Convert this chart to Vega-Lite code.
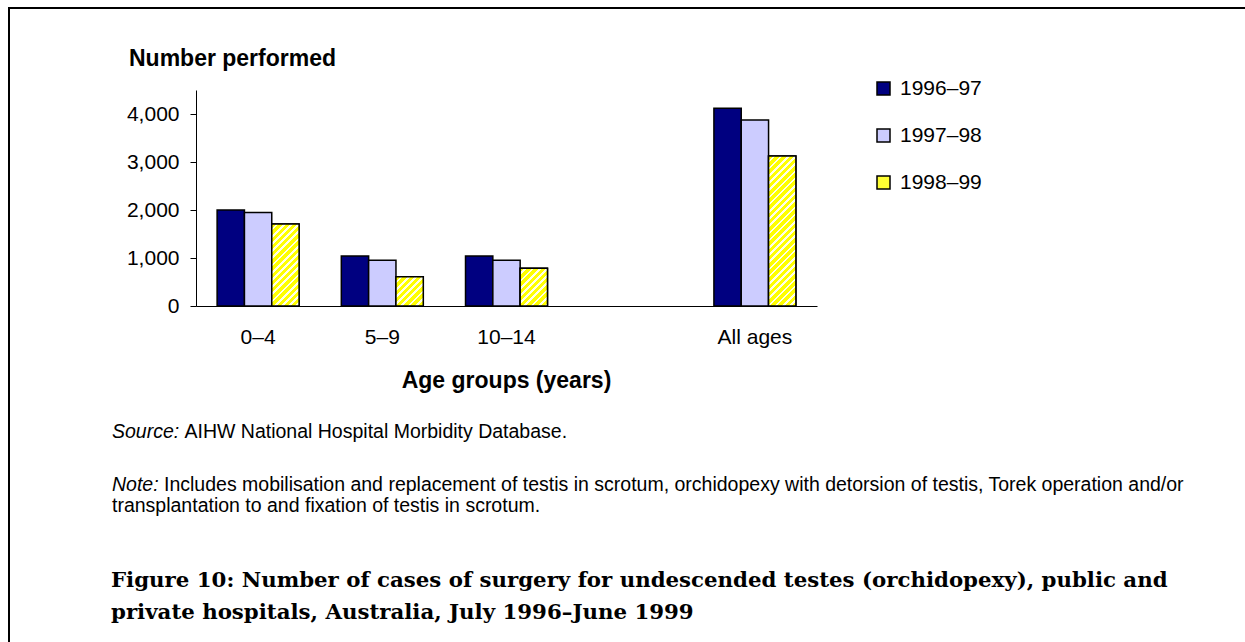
{
  "$schema": "https://vega.github.io/schema/vega-lite/v6.json",
  "width": 1240,
  "height": 638,
  "autosize": "none",
  "padding": {"left": 9, "top": 8, "right": -4, "bottom": -4},
  "background": "white",
  "config": {
    "view": {"stroke": "black", "strokeWidth": 2, "fill": "white"},
    "font": "Liberation Sans",
    "axis": {"grid": false, "domainColor": "black", "domainWidth": 1, "tickColor": "black", "labelColor": "black", "titleColor": "black", "labelFont": "Liberation Sans", "titleFont": "Liberation Sans", "labelFontSize": 21, "titleFontSize": 23, "labelFontWeight": "normal", "titleFontWeight": "bold"}
  },
  "params": [
    {"name": "stripes", "value": [
      {"offset": 0, "color": "#ffff00"}, {"offset": 0.025, "color": "#ffff00"}, {"offset": 0.025, "color": "#ffffe6"}, {"offset": 0.04, "color": "#ffffe6"},
      {"offset": 0.04, "color": "#ffff00"}, {"offset": 0.065, "color": "#ffff00"}, {"offset": 0.065, "color": "#ffffe6"}, {"offset": 0.08, "color": "#ffffe6"},
      {"offset": 0.08, "color": "#ffff00"}, {"offset": 0.105, "color": "#ffff00"}, {"offset": 0.105, "color": "#ffffe6"}, {"offset": 0.12, "color": "#ffffe6"},
      {"offset": 0.12, "color": "#ffff00"}, {"offset": 0.145, "color": "#ffff00"}, {"offset": 0.145, "color": "#ffffe6"}, {"offset": 0.16, "color": "#ffffe6"},
      {"offset": 0.16, "color": "#ffff00"}, {"offset": 0.185, "color": "#ffff00"}, {"offset": 0.185, "color": "#ffffe6"}, {"offset": 0.2, "color": "#ffffe6"},
      {"offset": 0.2, "color": "#ffff00"}, {"offset": 0.225, "color": "#ffff00"}, {"offset": 0.225, "color": "#ffffe6"}, {"offset": 0.24, "color": "#ffffe6"},
      {"offset": 0.24, "color": "#ffff00"}, {"offset": 0.265, "color": "#ffff00"}, {"offset": 0.265, "color": "#ffffe6"}, {"offset": 0.28, "color": "#ffffe6"},
      {"offset": 0.28, "color": "#ffff00"}, {"offset": 0.305, "color": "#ffff00"}, {"offset": 0.305, "color": "#ffffe6"}, {"offset": 0.32, "color": "#ffffe6"},
      {"offset": 0.32, "color": "#ffff00"}, {"offset": 0.345, "color": "#ffff00"}, {"offset": 0.345, "color": "#ffffe6"}, {"offset": 0.36, "color": "#ffffe6"},
      {"offset": 0.36, "color": "#ffff00"}, {"offset": 0.385, "color": "#ffff00"}, {"offset": 0.385, "color": "#ffffe6"}, {"offset": 0.4, "color": "#ffffe6"},
      {"offset": 0.4, "color": "#ffff00"}, {"offset": 0.425, "color": "#ffff00"}, {"offset": 0.425, "color": "#ffffe6"}, {"offset": 0.44, "color": "#ffffe6"},
      {"offset": 0.44, "color": "#ffff00"}, {"offset": 0.465, "color": "#ffff00"}, {"offset": 0.465, "color": "#ffffe6"}, {"offset": 0.48, "color": "#ffffe6"},
      {"offset": 0.48, "color": "#ffff00"}, {"offset": 0.505, "color": "#ffff00"}, {"offset": 0.505, "color": "#ffffe6"}, {"offset": 0.52, "color": "#ffffe6"},
      {"offset": 0.52, "color": "#ffff00"}, {"offset": 0.545, "color": "#ffff00"}, {"offset": 0.545, "color": "#ffffe6"}, {"offset": 0.56, "color": "#ffffe6"},
      {"offset": 0.56, "color": "#ffff00"}, {"offset": 0.585, "color": "#ffff00"}, {"offset": 0.585, "color": "#ffffe6"}, {"offset": 0.6, "color": "#ffffe6"},
      {"offset": 0.6, "color": "#ffff00"}, {"offset": 0.625, "color": "#ffff00"}, {"offset": 0.625, "color": "#ffffe6"}, {"offset": 0.64, "color": "#ffffe6"},
      {"offset": 0.64, "color": "#ffff00"}, {"offset": 0.665, "color": "#ffff00"}, {"offset": 0.665, "color": "#ffffe6"}, {"offset": 0.68, "color": "#ffffe6"},
      {"offset": 0.68, "color": "#ffff00"}, {"offset": 0.705, "color": "#ffff00"}, {"offset": 0.705, "color": "#ffffe6"}, {"offset": 0.72, "color": "#ffffe6"},
      {"offset": 0.72, "color": "#ffff00"}, {"offset": 0.745, "color": "#ffff00"}, {"offset": 0.745, "color": "#ffffe6"}, {"offset": 0.76, "color": "#ffffe6"},
      {"offset": 0.76, "color": "#ffff00"}, {"offset": 0.785, "color": "#ffff00"}, {"offset": 0.785, "color": "#ffffe6"}, {"offset": 0.8, "color": "#ffffe6"},
      {"offset": 0.8, "color": "#ffff00"}, {"offset": 0.825, "color": "#ffff00"}, {"offset": 0.825, "color": "#ffffe6"}, {"offset": 0.84, "color": "#ffffe6"},
      {"offset": 0.84, "color": "#ffff00"}, {"offset": 0.865, "color": "#ffff00"}, {"offset": 0.865, "color": "#ffffe6"}, {"offset": 0.88, "color": "#ffffe6"},
      {"offset": 0.88, "color": "#ffff00"}, {"offset": 0.905, "color": "#ffff00"}, {"offset": 0.905, "color": "#ffffe6"}, {"offset": 0.92, "color": "#ffffe6"},
      {"offset": 0.92, "color": "#ffff00"}, {"offset": 0.945, "color": "#ffff00"}, {"offset": 0.945, "color": "#ffffe6"}, {"offset": 0.96, "color": "#ffffe6"},
      {"offset": 0.96, "color": "#ffff00"}, {"offset": 0.985, "color": "#ffff00"}, {"offset": 0.985, "color": "#ffffe6"}, {"offset": 1, "color": "#ffffe6"}
    ]}
  ],
  "layer": [
    {
      "data": {"values": [
        {"age": "0–4", "year": "1996–97", "n": 2000},
        {"age": "0–4", "year": "1997–98", "n": 1950},
        {"age": "0–4", "year": "1998–99", "n": 1710},
        {"age": "5–9", "year": "1996–97", "n": 1040},
        {"age": "5–9", "year": "1997–98", "n": 955},
        {"age": "5–9", "year": "1998–99", "n": 610},
        {"age": "10–14", "year": "1996–97", "n": 1040},
        {"age": "10–14", "year": "1997–98", "n": 955},
        {"age": "10–14", "year": "1998–99", "n": 785},
        {"age": "All ages", "year": "1996–97", "n": 4120},
        {"age": "All ages", "year": "1997–98", "n": 3875},
        {"age": "All ages", "year": "1998–99", "n": 3125}
      ]},
      "encoding": {
        "x": {
          "field": "age", "type": "nominal",
          "scale": {"domain": ["0–4", "5–9", "10–14", "gap", "All ages"], "range": [187, 808], "paddingInner": 0.34, "paddingOuter": 0.17},
          "axis": {"title": "Age groups (years)", "labelAngle": 0, "ticks": false, "tickSize": 0, "labelPadding": 20, "offset": -340, "labelExpr": "datum.value == 'gap' ? '' : datum.value", "titleX": 497, "titleY": 74, "titleBaseline": "middle", "titleAnchor": null, "titleAlign": "center"}
        },
        "xOffset": {"field": "year", "type": "nominal", "scale": {"domain": ["1996–97", "1997–98", "1998–99"], "paddingInner": 0, "paddingOuter": 0}},
        "y": {
          "field": "n", "type": "quantitative",
          "scale": {"domain": [0, 4500], "range": [298, 82], "nice": false, "zero": true},
          "axis": {"title": "Number performed", "values": [0, 1000, 2000, 3000, 4000], "format": ",.0f", "tickSize": 6, "labelPadding": 11, "offset": -187, "titleAngle": 0, "titleX": 36, "titleY": 50, "titleAlign": "center", "titleBaseline": "middle", "titleAnchor": null}
        }
      },
      "layer": [
        {
          "mark": {"type": "bar", "stroke": "black", "strokeWidth": 1.5},
          "encoding": {
            "color": {
              "field": "year", "type": "nominal",
              "scale": {"domain": ["1996–97", "1997–98", "1998–99"], "range": ["#000080", "#ccccff", "#ffff33"]},
              "legend": {"title": null, "orient": "none", "legendX": 864, "legendY": 70, "direction": "vertical", "symbolType": "square", "symbolSize": 169, "symbolStrokeColor": "black", "symbolStrokeWidth": 1.5, "labelFontSize": 21, "labelFont": "Liberation Sans", "labelColor": "black", "labelOffset": 6, "rowPadding": 25}
            }
          }
        },
        {
          "transform": [{"filter": "datum.year == '1998–99'"}],
          "mark": {
            "type": "bar", "stroke": "black", "strokeWidth": 1.5,
            "fill": {"expr": "{gradient: 'linear', x1: 0, y1: 0, x2: 180 * bandwidth('xOffset') / (pow(bandwidth('xOffset'), 2) + pow(scale('y', 0) - scale('y', datum.n), 2)), y2: 180 * (scale('y', 0) - scale('y', datum.n)) / (pow(bandwidth('xOffset'), 2) + pow(scale('y', 0) - scale('y', datum.n), 2)), stops: stripes}"}
          }
        }
      ]
    },
    {
      "data": {"values": [{}]},
      "mark": {"type": "text", "text": "Source:", "x": 103, "y": 424, "align": "left", "baseline": "middle", "font": "Liberation Sans", "fontSize": 19.5, "fontStyle": "italic", "color": "black"},
      "encoding": {}
    },
    {
      "data": {"values": [{}]},
      "mark": {"type": "text", "text": "AIHW National Hospital Morbidity Database.", "x": 175.5, "y": 424, "align": "left", "baseline": "middle", "font": "Liberation Sans", "fontSize": 19.5, "color": "black"},
      "encoding": {}
    },
    {
      "data": {"values": [{}]},
      "mark": {"type": "text", "text": "Note:", "x": 103, "y": 477, "align": "left", "baseline": "middle", "font": "Liberation Sans", "fontSize": 19.5, "fontStyle": "italic", "color": "black"},
      "encoding": {}
    },
    {
      "data": {"values": [{}]},
      "mark": {"type": "text", "text": "Includes mobilisation and replacement of testis in scrotum, orchidopexy with detorsion of testis, Torek operation and/or", "x": 155, "y": 477, "align": "left", "baseline": "middle", "font": "Liberation Sans", "fontSize": 19.5, "color": "black"},
      "encoding": {}
    },
    {
      "data": {"values": [{}]},
      "mark": {"type": "text", "text": "transplantation to and fixation of testis in scrotum.", "x": 103, "y": 498, "align": "left", "baseline": "middle", "font": "Liberation Sans", "fontSize": 19.5, "color": "black"},
      "encoding": {}
    },
    {
      "data": {"values": [{}]},
      "mark": {"type": "text", "text": ["Figure 10: Number of cases of surgery for undescended testes (orchidopexy), public and", "private hospitals, Australia, July 1996–June 1999"], "x": 102, "y": 579, "lineHeight": 32, "align": "left", "baseline": "alphabetic", "font": "DejaVu Serif", "fontSize": 21.3, "fontWeight": "bold", "color": "black"},
      "encoding": {}
    }
  ]
}
